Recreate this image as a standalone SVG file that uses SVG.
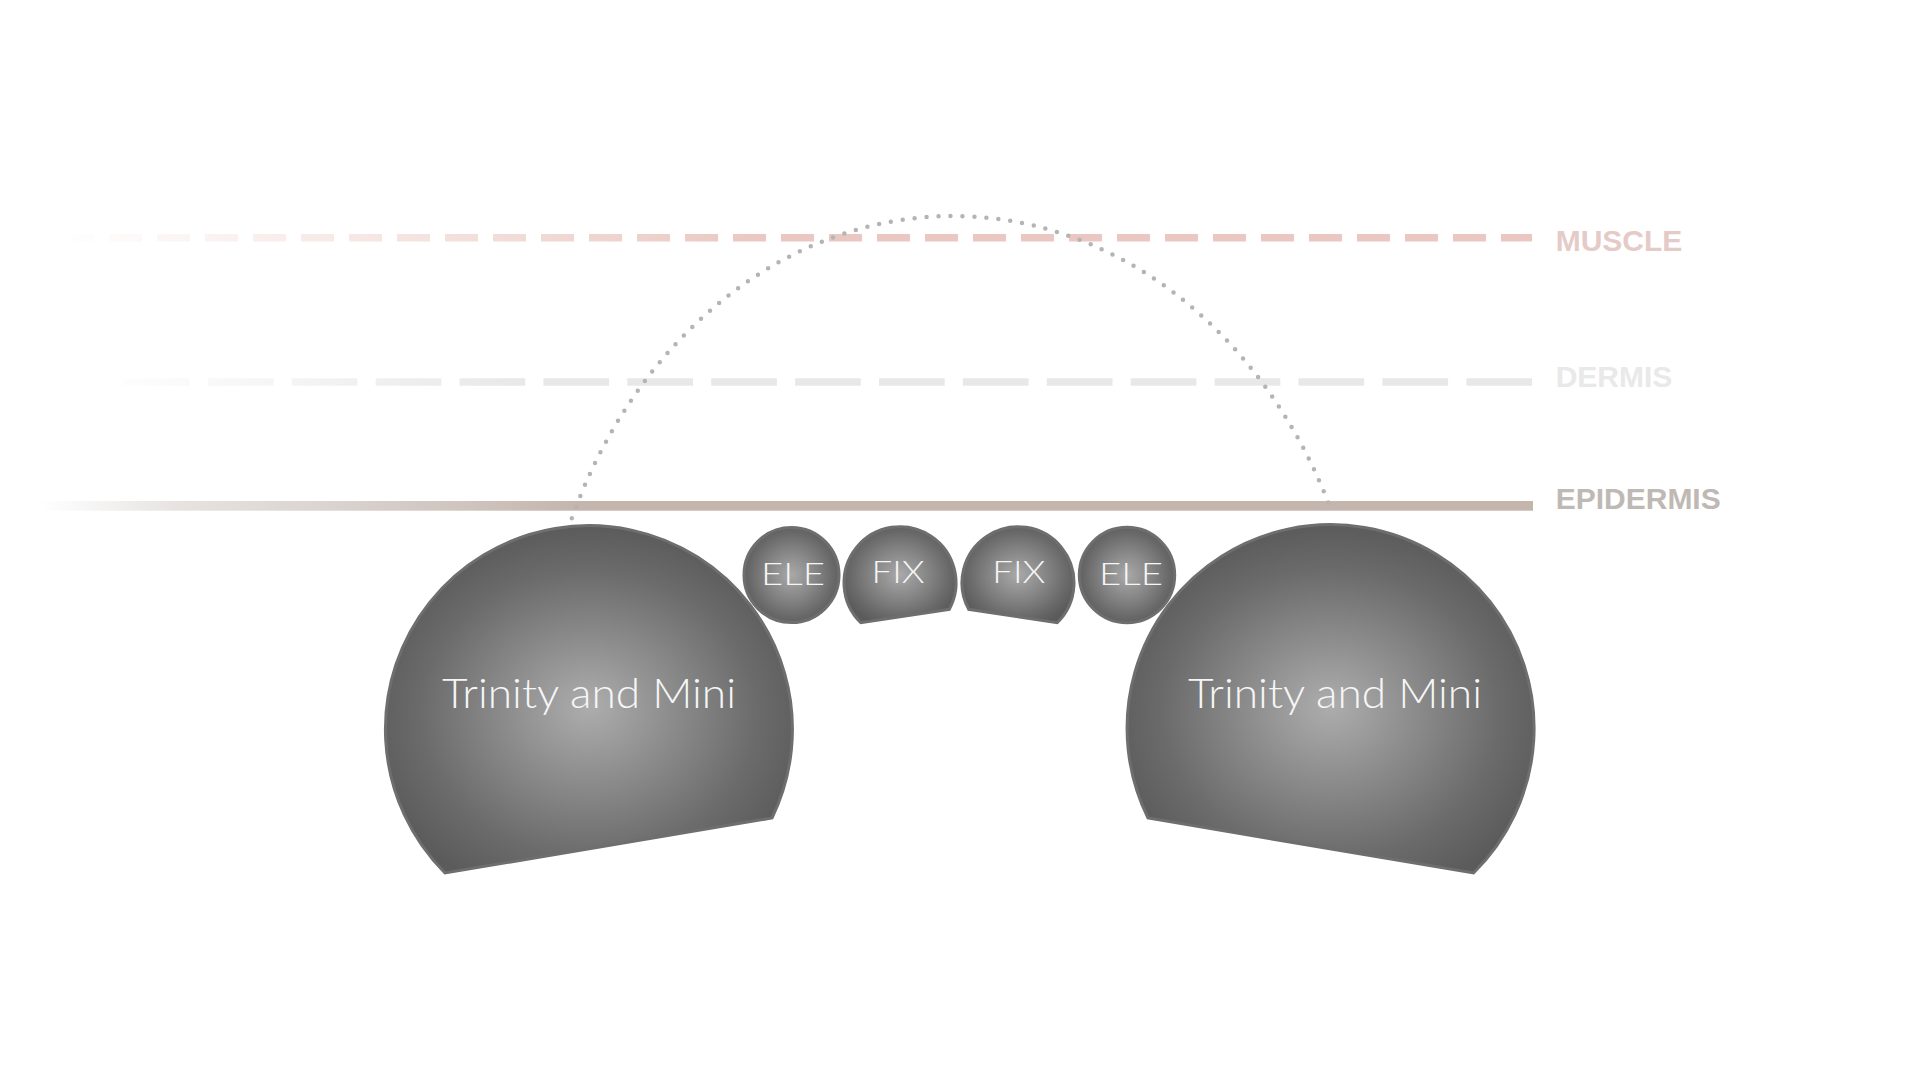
<svg xmlns="http://www.w3.org/2000/svg" width="1920" height="1088" viewBox="0 0 1920 1088">
  <style>
    .ball { stroke: #6e6e6e; stroke-width: 3; fill: url(#ballGrad); }
    .lbl { font-family: "Lato", "Open Sans", "Liberation Sans", sans-serif; font-weight: 300; fill: #f6f6f6; text-anchor: middle; }
    .big { font-size: 42px; }
    .small { font-size: 32px; }
    .layer { font-family: "Liberation Sans", Arial, sans-serif; font-weight: bold; font-size: 30px; }
  </style>
  <defs>
    <radialGradient id="ballGrad" cx="0.5" cy="0.55" r="0.55" fx="0.5" fy="0.52">
      <stop offset="0" stop-color="#adadae"/>
      <stop offset="0.35" stop-color="#8e8e8e"/>
      <stop offset="0.75" stop-color="#6b6b6b"/>
      <stop offset="1" stop-color="#5b5b5b"/>
    </radialGradient>
    <radialGradient id="smallGrad" cx="0.5" cy="0.5" r="0.55">
      <stop offset="0" stop-color="#a9a9a9"/>
      <stop offset="0.45" stop-color="#868686"/>
      <stop offset="0.8" stop-color="#696969"/>
      <stop offset="1" stop-color="#5b5b5b"/>
    </radialGradient>
    <linearGradient id="muscleGrad" gradientUnits="userSpaceOnUse" x1="60" y1="0" x2="760" y2="0">
      <stop offset="0" stop-color="#eac8c1" stop-opacity="0"/>
      <stop offset="1" stop-color="#eac8c1" stop-opacity="1"/>
    </linearGradient>
    <linearGradient id="dermisGrad" gradientUnits="userSpaceOnUse" x1="90" y1="0" x2="520" y2="0">
      <stop offset="0" stop-color="#e8e8e8" stop-opacity="0"/>
      <stop offset="1" stop-color="#e8e8e8" stop-opacity="1"/>
    </linearGradient>
    <linearGradient id="epiGrad" gradientUnits="userSpaceOnUse" x1="40" y1="0" x2="580" y2="0">
      <stop offset="0" stop-color="#e2e0de" stop-opacity="0"/>
      <stop offset="0.25" stop-color="#e0dcda" stop-opacity="0.8"/>
      <stop offset="1" stop-color="#c4b5ad" stop-opacity="1"/>
    </linearGradient>
  </defs>

  <rect width="1920" height="1088" fill="#ffffff"/>

  <g id="layers">
    <line id="muscle-line" x1="61" y1="237.7" x2="1532" y2="237.7" stroke="url(#muscleGrad)" stroke-width="7.5" stroke-dasharray="33 15"/>
    <line id="dermis-line" x1="40" y1="382" x2="1532" y2="382" stroke="url(#dermisGrad)" stroke-width="7.7" stroke-dasharray="65.7 18.2"/>
    <rect id="epidermis-line" x="40" y="501" width="1493" height="9.7" fill="url(#epiGrad)"/>
    <text class="layer" x="1555.7" y="250.7" fill="#e5cbc7">MUSCLE</text>
    <text class="layer" x="1555.7" y="386.7" fill="#e9e9e9">DERMIS</text>
    <text class="layer" x="1555.7" y="509.3" fill="#bfb9b5">EPIDERMIS</text>
  </g>

  <g id="connectors">
    <path d="M 571.8 518.3 A 415 500 0 0 1 1329.2 505" fill="none" stroke="#b4b4b4" stroke-width="4.5" stroke-linecap="round" stroke-dasharray="0 12"/>
  </g>

  <g id="trinity-left">
    <path class="ball" d="M 445 873 A 203.5 203.5 0 1 1 772 818 Z"/>
    <text class="lbl big" x="589" y="708.3" textLength="294" lengthAdjust="spacingAndGlyphs">Trinity and Mini</text>
  </g>

  <g id="trinity-right">
    <path class="ball" d="M 1148 818 A 203.5 203.5 0 1 1 1473.5 873 Z"/>
    <text class="lbl big" x="1335" y="708.3" textLength="294" lengthAdjust="spacingAndGlyphs">Trinity and Mini</text>
  </g>

  <g id="ele-left">
    <circle class="ball" cx="791.5" cy="575" r="47.5" style="fill:url(#smallGrad)"/>
    <text class="lbl small" x="793" y="585" textLength="64" lengthAdjust="spacingAndGlyphs">ELE</text>
  </g>

  <g id="fix-left">
    <path class="ball" style="fill:url(#smallGrad)" d="M 860.8 622.7 A 56 56 0 1 1 949.3 609.3 Z"/>
    <text class="lbl small" x="898" y="583.3" textLength="53" lengthAdjust="spacingAndGlyphs">FIX</text>
  </g>

  <g id="fix-right">
    <path class="ball" style="fill:url(#smallGrad)" d="M 968.7 609.3 A 56 56 0 1 1 1057.2 622.7 Z"/>
    <text class="lbl small" x="1018.8" y="583.3" textLength="53" lengthAdjust="spacingAndGlyphs">FIX</text>
  </g>

  <g id="ele-right">
    <circle class="ball" cx="1127" cy="575" r="47.7" style="fill:url(#smallGrad)"/>
    <text class="lbl small" x="1131" y="585" textLength="64" lengthAdjust="spacingAndGlyphs">ELE</text>
  </g>
</svg>
